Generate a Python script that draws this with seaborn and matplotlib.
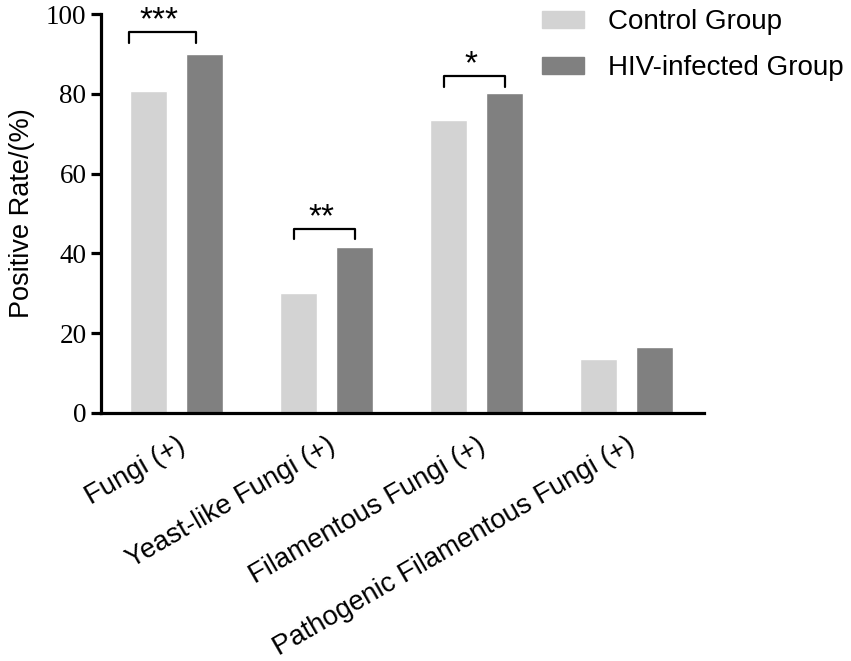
import seaborn as sns
import pandas as pd
import matplotlib.pyplot as plt
import matplotlib.transforms as mtransforms

# datos
categories = ['Fungi (+)', 'Yeast-like Fungi (+)', 'Filamentous Fungi (+)',
              'Pathogenic Filamentous Fungi (+)']
groups = ['Control Group', 'HIV-infected Group']
control = [80.7, 30.2, 73.4, 13.5]
hiv = [90.0, 41.7, 80.2, 16.5]
stars = ['***', '**', '*', '']
bracket_y = [95.5, 46.2, 84.5, None]
yticks = [0, 20, 40, 60, 80, 100]

df = pd.DataFrame({
    'category': categories * 2,
    'group': [groups[0]] * 4 + [groups[1]] * 4,
    'rate': control + hiv,
})

sns.set_style('ticks')
plt.rcParams['font.family'] = ['Liberation Sans', 'DejaVu Sans']
plt.rcParams['axes.linewidth'] = 2.3
for k in ['text.color', 'axes.labelcolor', 'xtick.color', 'ytick.color', 'axes.edgecolor']:
    plt.rcParams[k] = 'black'

fig = plt.figure(figsize=(8.51, 6.61), dpi=100)
ax = fig.add_axes([0.1187, 0.3752, 0.8273 - 0.1187, 0.9788 - 0.3752])

sns.barplot(data=df, x='category', y='rate', hue='group', order=categories,
            hue_order=groups, palette=['#d3d3d3', '#808080'], saturation=1,
            width=0.747, gap=0.34, ax=ax, legend=False)

ax.set_xlim(-0.503, 3.517)
ax.set_ylim(0, 100)
ax.set_yticks(yticks)
ax.set_yticklabels([str(t) for t in yticks], family='Liberation Serif', fontsize=19.5)
ax.tick_params(axis='y', length=7.5, width=2.3, pad=3, color='black')
ax.tick_params(axis='x', length=0, pad=22)
ax.set_xlabel('')
ax.set_ylabel('Positive Rate/(%)', fontsize=19.5, labelpad=8)
sns.despine(ax=ax)

offset = mtransforms.ScaledTranslation(6.5 / 100, 0, fig.dpi_scale_trans)
for lab in ax.get_xticklabels():
    lab.set_rotation(30)
    lab.set_ha('right')
    lab.set_va('center')
    lab.set_rotation_mode('anchor')
    lab.set_fontsize(19.8)
    lab.set_transform(lab.get_transform() + offset)

# corchetes de significancia
for i, (s, top) in enumerate(zip(stars, bracket_y)):
    if not s:
        continue
    left = i - 0.317 if i == 0 else i - 0.217
    right = i + 0.13 if i == 0 else i + 0.187
    ax.plot([left, left, right, right], [top - 2.7, top, top, top - 2.7],
            color='black', lw=1.6, clip_on=False)
    ax.text((left + right) / 2 - 0.02, top + 0.6, s, ha='center', va='baseline',
            fontsize=24, clip_on=False)

handles = [plt.Rectangle((0, 0), 1, 1, color=c) for c in ['#d3d3d3', '#808080']]
fig.legend(handles, groups, loc='upper left', bbox_to_anchor=(542 / 851, 1 - 9 / 661),
           frameon=False, fontsize=20, handlelength=1.5, handleheight=0.58,
           handletextpad=0.86, labelspacing=0.72, borderpad=0, borderaxespad=0)

fig.savefig('out.png', dpi=100)
